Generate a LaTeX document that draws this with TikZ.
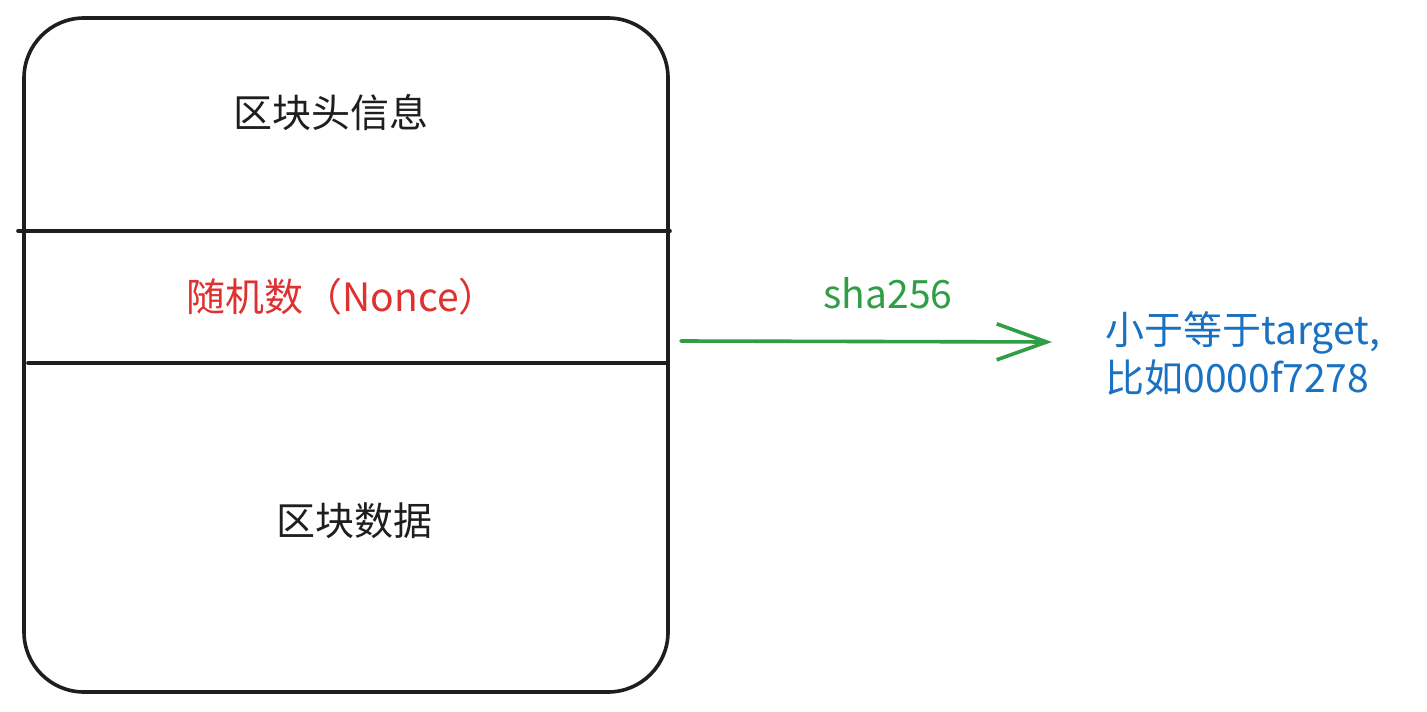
\documentclass[tikz,border=0pt]{standalone}
\usepackage{fontspec}
\setmainfont{Noto Sans CJK SC}
\usetikzlibrary{arrows.meta}
\definecolor{ink}{HTML}{1E1E1E}
\definecolor{myred}{HTML}{E03131}
\definecolor{mygreen}{HTML}{2F9E44}
\definecolor{myblue}{HTML}{1971C2}
\tikzset{
  outline/.style={draw=ink, line width=1.8pt, line cap=round},
  label/.style={font=\fontsize{19.5}{24}\selectfont, inner sep=0pt},
}
\begin{document}
\begin{tikzpicture}[x=0.5pt,y=-0.5pt]
\useasboundingbox (0,0) rectangle (1427,711);
\fill[white] (0,0) rectangle (1427,711);
\draw[outline, rounded corners=30pt] (24,18) rectangle (668,692);
\draw[outline] (18,231) -- (670,231);
\draw[outline] (28,363) -- (666,363);
\node[label, text=ink] (head) at (331,113) {区块头信息};
\node[label, text=myred] (nonce) at (342,297) {随机数（Nonce）};
\node[label, text=ink] (data) at (354,521) {区块数据};
\coordinate (a0) at (681,341);
\coordinate (a1) at (1052,342);
\draw[draw=mygreen, line width=1.8pt, line cap=round, -{Straight Barb[length=25pt,width=18pt,line width=1.8pt]}] (a0) -- (a1);
\node[label, text=mygreen] (sha) at (888,293) {sha256};
\node[label, text=myblue, anchor=west, align=left, font=\fontsize{19.5}{24}\selectfont] (res) at (1105,354) {小于等于target,\\比如0000f7278};
\end{tikzpicture}
\end{document}
